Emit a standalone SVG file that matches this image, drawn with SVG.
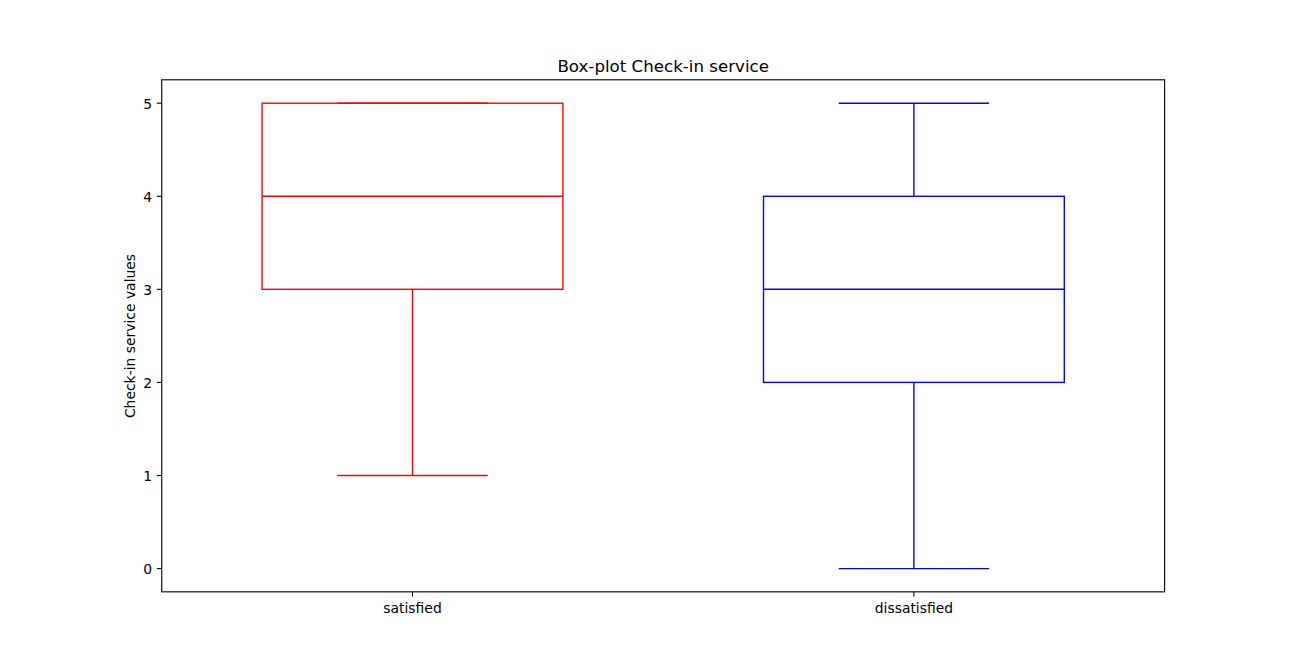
<svg xmlns="http://www.w3.org/2000/svg" width="1294" height="665" viewBox="0 0 1294 665">
<style>
text{font-family:"DejaVu Sans","Liberation Sans",sans-serif;fill:#000}
.tick{font-size:13.9px}
.spine{fill:none;stroke:#000;stroke-width:1.11}
.tk{stroke:#000;stroke-width:1.11}
.red{fill:none;stroke:#ff0000;stroke-width:1.39}
.blue{fill:none;stroke:#0000ff;stroke-width:1.39}
</style>
<rect width="1294" height="665" fill="#fff"/>
<g id="axes">
<rect class="spine" x="161.75" y="79.8" width="1002.85" height="512.05"/>
<g id="yticks">
<line class="tk" x1="156.9" y1="568.6" x2="161.75" y2="568.6"/>
<line class="tk" x1="156.9" y1="475.5" x2="161.75" y2="475.5"/>
<line class="tk" x1="156.9" y1="382.4" x2="161.75" y2="382.4"/>
<line class="tk" x1="156.9" y1="289.3" x2="161.75" y2="289.3"/>
<line class="tk" x1="156.9" y1="196.3" x2="161.75" y2="196.3"/>
<line class="tk" x1="156.9" y1="103.2" x2="161.75" y2="103.2"/>
<text class="tick" x="152" y="573.9" text-anchor="end">0</text>
<text class="tick" x="152" y="480.8" text-anchor="end">1</text>
<text class="tick" x="152" y="387.7" text-anchor="end">2</text>
<text class="tick" x="152" y="294.6" text-anchor="end">3</text>
<text class="tick" x="152" y="201.6" text-anchor="end">4</text>
<text class="tick" x="152" y="108.5" text-anchor="end">5</text>
</g>
<g id="xticks">
<line class="tk" x1="412.5" y1="591.85" x2="412.5" y2="596.7"/>
<line class="tk" x1="913.9" y1="591.85" x2="913.9" y2="596.7"/>
<text class="tick" x="412.5" y="612.5" text-anchor="middle">satisfied</text>
<text class="tick" x="913.9" y="612.5" text-anchor="middle">dissatisfied</text>
</g>
<text x="135" y="336" font-size="13.9" text-anchor="middle" transform="rotate(-90 135 336)">Check-in service values</text>
<text x="663.2" y="71.5" font-size="16.67" text-anchor="middle">Box-plot Check-in service</text>
</g>
<g id="connectors">
<line class="red" x1="412.5" y1="289.3" x2="412.5" y2="475.5"/>
<line class="blue" x1="913.9" y1="382.4" x2="913.9" y2="568.6"/>
<line class="blue" x1="913.9" y1="196.3" x2="913.9" y2="103.2"/>
</g>
<g id="satisfied">
<rect class="red" x="262.1" y="103.2" width="300.8" height="186.1"/>
<line class="red" x1="262.1" y1="196.3" x2="562.9" y2="196.3"/>
<line class="red" x1="337.3" y1="475.5" x2="487.7" y2="475.5"/>
<line class="red" x1="337.3" y1="103.2" x2="487.7" y2="103.2"/>
</g>
<g id="dissatisfied">
<rect class="blue" x="763.5" y="196.3" width="300.8" height="186.1"/>
<line class="blue" x1="763.5" y1="289.3" x2="1064.3" y2="289.3"/>
<line class="blue" x1="838.7" y1="568.6" x2="989.1" y2="568.6"/>
<line class="blue" x1="838.7" y1="103.2" x2="989.1" y2="103.2"/>
</g>
</svg>
